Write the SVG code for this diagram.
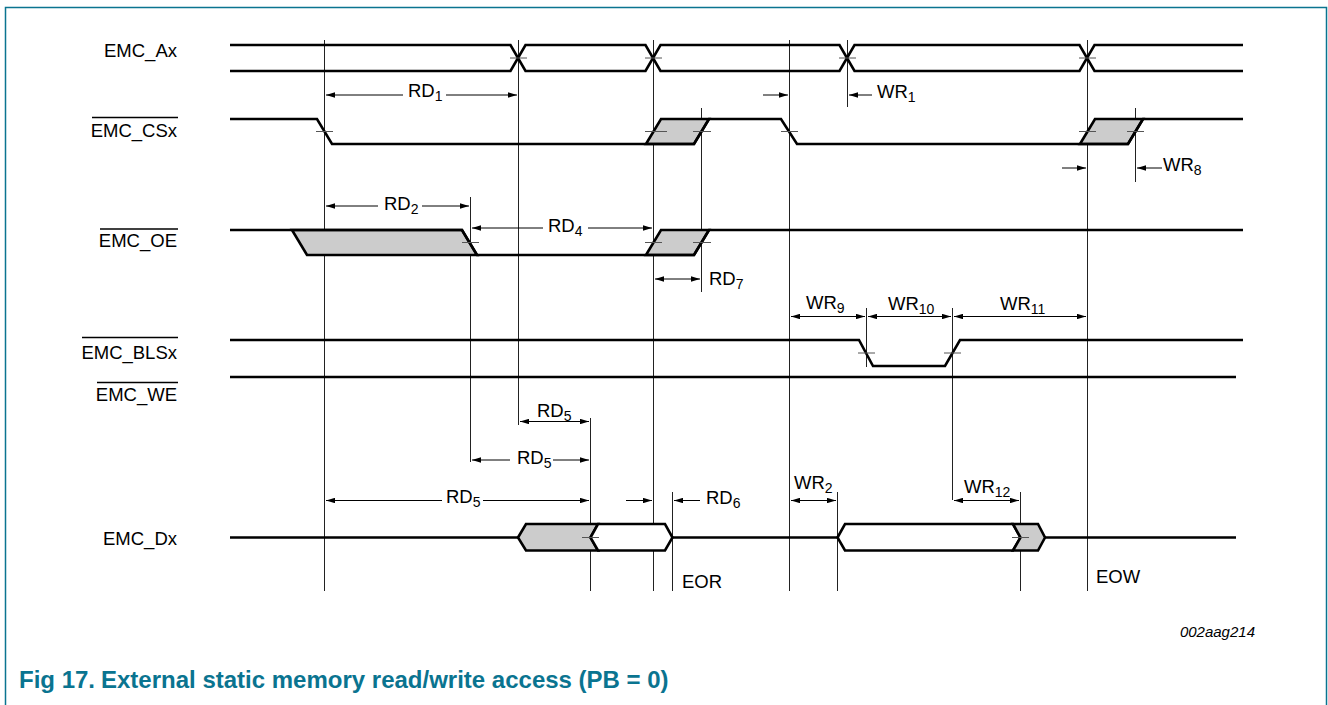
<svg xmlns="http://www.w3.org/2000/svg" width="1328" height="705" viewBox="0 0 1328 705">
<defs>
<marker id="ah" viewBox="0 0 10 6" refX="10" refY="3" markerWidth="9" markerHeight="5.5" markerUnits="userSpaceOnUse" orient="auto-start-reverse"><path d="M0,0 L10,3 L0,6 z" fill="#000"/></marker>
<style>
.sig{fill:none;stroke:#000;stroke-width:2.6;stroke-linejoin:miter}
.gf{fill:#cccccc;stroke:#000;stroke-width:2.6}
.wf{fill:#fff;stroke:#000;stroke-width:2.6}
.tk{stroke:#555;stroke-width:1}
.vl{stroke:#222;stroke-width:1}
.ov{stroke:#000;stroke-width:1.3}
.ar{stroke:#000;stroke-width:1;fill:none}
.e{marker-end:url(#ah)}
.b{marker-start:url(#ah);marker-end:url(#ah)}
.lbl{font-family:"Liberation Sans",Arial,sans-serif;font-size:18.5px;fill:#000}
.dim{font-family:"Liberation Sans",Arial,sans-serif;font-size:18.5px;fill:#000}
.sub{font-size:14px}
</style>
</defs>
<rect x="5.5" y="7.5" width="1321" height="710" fill="#fff" stroke="#0a7490" stroke-width="1.5"/>

<g id="connectors">
<g id="guides">
<line class="vl" x1="324.5" y1="40" x2="324.5" y2="591"/>
<line class="vl" x1="518.5" y1="40" x2="518.5" y2="425"/>
<line class="vl" x1="653.5" y1="40" x2="653.5" y2="591"/>
<line class="vl" x1="789.5" y1="40" x2="789.5" y2="591"/>
<line class="vl" x1="847.5" y1="40" x2="847.5" y2="107"/>
<line class="vl" x1="1087.5" y1="40" x2="1087.5" y2="591"/>
<line class="vl" x1="701.5" y1="108" x2="701.5" y2="292"/>
<line class="vl" x1="1135.5" y1="108" x2="1135.5" y2="182"/>
<line class="vl" x1="470.5" y1="197" x2="470.5" y2="462"/>
<line class="vl" x1="590.5" y1="418" x2="590.5" y2="591"/>
<line class="vl" x1="672.5" y1="492" x2="672.5" y2="591"/>
<line class="vl" x1="866.5" y1="308" x2="866.5" y2="367"/>
<line class="vl" x1="952.5" y1="308" x2="952.5" y2="500"/>
<line class="vl" x1="837.5" y1="492" x2="837.5" y2="591"/>
<line class="vl" x1="1020.5" y1="492" x2="1020.5" y2="591"/>
</g>
<g id="dims">
<line class="ar e" x1="403" y1="95" x2="326" y2="95"/>
<line class="ar e" x1="446" y1="95" x2="517" y2="95"/>
<line class="ar e" x1="763" y1="95" x2="788" y2="95"/>
<line class="ar e" x1="872" y1="95" x2="849" y2="95"/>
<line class="ar e" x1="1062" y1="168" x2="1086" y2="168"/>
<line class="ar e" x1="1162" y1="168" x2="1137" y2="168"/>
<line class="ar e" x1="378" y1="206" x2="326" y2="206"/>
<line class="ar e" x1="422" y1="206" x2="469" y2="206"/>
<line class="ar e" x1="543" y1="228" x2="472" y2="228"/>
<line class="ar e" x1="588" y1="228" x2="652" y2="228"/>
<line class="ar b" x1="655" y1="279" x2="700" y2="279"/>
<line class="ar b" x1="791" y1="316.5" x2="865" y2="316.5"/>
<line class="ar b" x1="868" y1="316.5" x2="951" y2="316.5"/>
<line class="ar b" x1="954" y1="316.5" x2="1086" y2="316.5"/>
<line class="ar b" x1="520" y1="421.5" x2="589" y2="421.5"/>
<line class="ar e" x1="510" y1="460" x2="472" y2="460"/>
<line class="ar e" x1="553" y1="460" x2="589" y2="460"/>
<line class="ar e" x1="442" y1="500.5" x2="326" y2="500.5"/>
<line class="ar e" x1="483" y1="500.5" x2="589" y2="500.5"/>
<line class="ar e" x1="626" y1="500.5" x2="652" y2="500.5"/>
<line class="ar e" x1="700" y1="500.5" x2="674" y2="500.5"/>
<line class="ar b" x1="791" y1="500.5" x2="836" y2="500.5"/>
<line class="ar b" x1="954" y1="500.5" x2="1019" y2="500.5"/>
</g>
<g id="dimlabels">
<text class="dim" x="408" y="97">RD<tspan class="sub" dy="4">1</tspan></text>
<text class="dim" x="877" y="98">WR<tspan class="sub" dy="4">1</tspan></text>
<text class="dim" x="1163" y="171">WR<tspan class="sub" dy="4">8</tspan></text>
<text class="dim" x="384" y="210">RD<tspan class="sub" dy="4">2</tspan></text>
<text class="dim" x="548" y="232">RD<tspan class="sub" dy="4">4</tspan></text>
<text class="dim" x="709" y="285">RD<tspan class="sub" dy="4">7</tspan></text>
<text class="dim" x="806" y="309">WR<tspan class="sub" dy="4">9</tspan></text>
<text class="dim" x="888" y="310">WR<tspan class="sub" dy="4">10</tspan></text>
<text class="dim" x="1000" y="310">WR<tspan class="sub" dy="4">11</tspan></text>
<text class="dim" x="537" y="417">RD<tspan class="sub" dy="4">5</tspan></text>
<text class="dim" x="517" y="464">RD<tspan class="sub" dy="4">5</tspan></text>
<text class="dim" x="446" y="503">RD<tspan class="sub" dy="4">5</tspan></text>
<text class="dim" x="706" y="504">RD<tspan class="sub" dy="4">6</tspan></text>
<text class="dim" x="794" y="489">WR<tspan class="sub" dy="4">2</tspan></text>
<text class="dim" x="964" y="493">WR<tspan class="sub" dy="4">12</tspan></text>
<text class="dim" x="682" y="588">EOR</text>
<text class="dim" x="1096" y="583">EOW</text>
</g>
</g>

<g id="EMC_Ax">
<text class="lbl" x="177" y="57" text-anchor="end">EMC_Ax</text>
<path class="sig" d="M230,45 H510.5 L525.5,71 H645.5 L660.5,45 H839.5 L854.5,71 H1079.5 L1094.5,45 H1243"/>
<path class="sig" d="M230,71 H510.5 L525.5,45 H645.5 L660.5,71 H839.5 L854.5,45 H1079.5 L1094.5,71 H1243"/>
<line class="tk" x1="510" y1="58" x2="527" y2="58"/>
<line class="tk" x1="645" y1="58" x2="662" y2="58"/>
<line class="tk" x1="839" y1="58" x2="856" y2="58"/>
<line class="tk" x1="1079" y1="58" x2="1096" y2="58"/>
</g>

<g id="EMC_CSx">
<text class="lbl" x="177" y="137" text-anchor="end">EMC_CSx</text>
<line class="ov" x1="92" y1="117.5" x2="178" y2="117.5"/>
<polygon class="gf" points="646,144 661,119 709,119 694,144"/>
<polygon class="gf" points="1080,144 1095,119 1143,119 1128,144"/>
<path class="sig" d="M230,119 H317 L332,144 H694 L709,119 H781 L797,144 H1128 L1143,119 H1243"/>
<line class="tk" x1="316" y1="131.5" x2="333" y2="131.5"/>
<line class="tk" x1="645" y1="131.5" x2="667" y2="131.5"/>
<line class="tk" x1="693" y1="131.5" x2="711" y2="131.5"/>
<line class="tk" x1="781" y1="131.5" x2="798" y2="131.5"/>
<line class="tk" x1="1079" y1="131.5" x2="1096" y2="131.5"/>
<line class="tk" x1="1127" y1="131.5" x2="1144" y2="131.5"/>
</g>

<g id="EMC_OE">
<text class="lbl" x="177" y="247" text-anchor="end">EMC_OE</text>
<line class="ov" x1="100" y1="229" x2="178" y2="229"/>
<polygon class="gf" points="292,230 462,230 477,255 307,255"/>
<polygon class="gf" points="646,255 661,230 709,230 694,255"/>
<path class="sig" d="M230,230 H462 L477,255 H694 L709,230 H1243"/>
<line class="tk" x1="462" y1="242.5" x2="479" y2="242.5"/>
<line class="tk" x1="645" y1="242.5" x2="662" y2="242.5"/>
<line class="tk" x1="693" y1="242.5" x2="711" y2="242.5"/>
</g>

<g id="EMC_BLSx">
<text class="lbl" x="177" y="359" text-anchor="end">EMC_BLSx</text>
<line class="ov" x1="82" y1="337.5" x2="178" y2="337.5"/>
<path class="sig" d="M230,340 H859 L873,366 H945 L960,340 H1243"/>
<line class="tk" x1="858" y1="353" x2="875" y2="353"/>
<line class="tk" x1="944" y1="353" x2="961" y2="353"/>
</g>

<g id="EMC_WE">
<text class="lbl" x="177" y="401" text-anchor="end">EMC_WE</text>
<line class="ov" x1="97" y1="382.5" x2="178" y2="382.5"/>
<path class="sig" d="M230,377 H1236"/>
</g>

<g id="EMC_Dx">
<text class="lbl" x="177" y="545" text-anchor="end">EMC_Dx</text>
<path class="sig" d="M230,537.5 H518 M672.5,537.5 H837.5 M1045,537.5 H1236"/>
<polygon class="gf" points="518,537.5 526,524 598,524 590.5,537.5 598,550.5 526,550.5"/>
<polygon class="wf" points="590.5,537.5 598,524 665,524 672.5,537.5 665,550.5 598,550.5"/>
<polygon class="wf" points="837.5,537.5 845,524 1013,524 1020.5,537.5 1013,550.5 845,550.5"/>
<polygon class="gf" points="1013,524 1038,524 1045,537.5 1038,550.5 1013,550.5 1020.5,537.5"/>
<line class="tk" x1="582" y1="537.5" x2="599" y2="537.5"/>
<line class="tk" x1="1012" y1="537.5" x2="1029" y2="537.5"/>
</g>

<g id="caption">
<text x="1255" y="637" text-anchor="end" font-family="Liberation Sans, Arial, sans-serif" font-size="15" font-style="italic" fill="#000">002aag214</text>
<text y="688" font-family="Liberation Sans, Arial, sans-serif" font-size="24" font-weight="bold" fill="#0a7490"><tspan x="19">Fig 17.</tspan><tspan x="101">External static memory read/write access (PB = 0)</tspan></text>
</g>
</svg>
